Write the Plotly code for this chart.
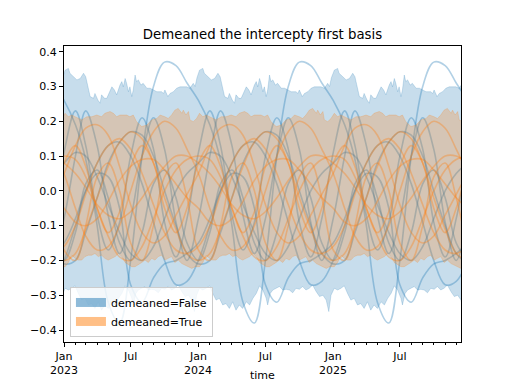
import pandas as pd
import plotly.graph_objects as go

# ---------------- text ----------------
title_text = "Demeaned the intercepty first basis"
x_label = "time"
legend_false = "demeaned=False"
legend_true = "demeaned=True"

x_range = ["2023-01-01", "2025-12-14"]
y_range = [-0.4345, 0.4164]
x_tick_dates = ["2023-01-01", "2023-07-01", "2024-01-01", "2024-07-01", "2025-01-01", "2025-07-01"]
x_tick_labels = ["Jan", "Jul", "Jan", "Jul", "Jan", "Jul"]
year_label_dates = ["2023-01-01", "2024-01-01", "2025-01-01"]
year_labels = ["2023", "2024", "2025"]
y_tick_values = [-0.4, -0.3, -0.2, -0.1, 0.0, 0.1, 0.2, 0.3, 0.4]

# ---------------- HDI bands (yearly seasonal profile: day-of-year -> value) ----------------
blue_upper_doy = [3, 12, 16, 26, 35, 44, 53, 59, 66, 71, 80, 84, 92, 98, 102, 110, 116, 125, 130, 137,
                  143, 152, 157, 161, 166, 170, 175, 179, 184, 188, 193, 197, 202, 209, 215, 225, 234, 243, 252, 265,
                  270, 274, 282, 288, 297, 306, 315, 333, 342, 351, 356, 361]
blue_upper_val = [0.347, 0.352, 0.338, 0.328, 0.319, 0.323, 0.338, 0.328, 0.299, 0.271, 0.266, 0.280, 0.261, 0.252, 0.276, 0.266, 0.266, 0.285, 0.299, 0.290,
                  0.276, 0.304, 0.314, 0.299, 0.323, 0.309, 0.285, 0.299, 0.271, 0.290, 0.333, 0.314, 0.319, 0.304, 0.309, 0.295, 0.295, 0.290, 0.285, 0.285,
                  0.280, 0.290, 0.271, 0.280, 0.285, 0.295, 0.299, 0.299, 0.295, 0.309, 0.300, 0.325]

blue_lower_doy = [3, 12, 21, 30, 39, 48, 57, 66, 75, 84, 93, 102, 111, 120, 130, 139, 148, 157, 166, 175,
                  184, 188, 195, 202, 211, 220, 229, 238, 247, 256, 265, 274, 283, 292, 301, 310, 320, 329, 338, 347,
                  354, 360]
blue_lower_val = [-0.280, -0.285, -0.280, -0.273, -0.295, -0.314, -0.309, -0.328, -0.324, -0.338, -0.319, -0.343, -0.328, -0.338, -0.319, -0.328, -0.309, -0.295, -0.273, -0.285,
                  -0.309, -0.328, -0.295, -0.285, -0.280, -0.275, -0.285, -0.283, -0.285, -0.293, -0.280, -0.283, -0.275, -0.285, -0.280, -0.271, -0.290, -0.304, -0.300, -0.314,
                  -0.347, -0.300]

orange_upper_doy = [3, 12, 21, 35, 48, 62, 75, 89, 102, 111, 125, 134, 143, 152, 161, 170, 179, 188, 197, 211,
                    225, 238, 252, 261, 274, 283, 292, 301, 310, 320, 324, 331, 338, 342, 351, 360]
orange_upper_val = [0.223, 0.213, 0.218, 0.210, 0.204, 0.213, 0.213, 0.218, 0.213, 0.223, 0.228, 0.223, 0.213, 0.218, 0.218, 0.218, 0.213, 0.218, 0.199, 0.185,
                    0.189, 0.204, 0.208, 0.218, 0.213, 0.208, 0.218, 0.232, 0.237, 0.223, 0.232, 0.218, 0.228, 0.204, 0.199, 0.208]

orange_lower_doy = [3, 12, 21, 30, 39, 48, 57, 66, 75, 84, 93, 102, 111, 120, 130, 139, 148, 157, 166, 175,
                    184, 193, 202, 211, 220, 229, 238, 247, 256, 265, 274, 283, 292, 301, 310, 320, 329, 338, 347, 356]
orange_lower_val = [-0.218, -0.206, -0.185, -0.194, -0.199, -0.199, -0.189, -0.185, -0.185, -0.180, -0.189, -0.185, -0.194, -0.199, -0.194, -0.189, -0.180, -0.189, -0.206, -0.213,
                    -0.218, -0.218, -0.213, -0.206, -0.199, -0.206, -0.194, -0.199, -0.189, -0.185, -0.199, -0.194, -0.189, -0.206, -0.199, -0.209, -0.213, -0.218, -0.223, -0.218]

# ---------------- sample curves (value on the 1st of Jan..Dec, repeating each year) ----------------
blue_1 = [0.26, 0.19, 0.09, -0.10, -0.32, -0.38, -0.20, 0.10, 0.30, 0.37, 0.36, 0.31]
blue_2 = [0.11, 0.23, 0.13, -0.07, -0.17, -0.09, 0.10, 0.21, 0.12, -0.09, -0.19, -0.08]
blue_3 = [-0.08, 0.10, 0.23, 0.13, -0.07, -0.18, -0.08, 0.10, 0.21, 0.12, -0.09, -0.20]
blue_4 = [-0.15, -0.08, 0.00, 0.05, 0.04, -0.05, -0.27, -0.32, -0.25, -0.21, -0.20, -0.18]
blue_5 = [-0.21, -0.20, -0.12, -0.02, 0.08, 0.14, 0.17, 0.16, 0.10, 0.00, -0.10, -0.18]
blue_6 = [0.08, 0.11, 0.10, 0.04, -0.04, -0.12, -0.18, -0.20, -0.16, -0.08, 0.00, 0.05]
blue_7 = [-0.20, -0.12, 0.02, 0.06, -0.02, -0.15, -0.20, -0.12, 0.02, 0.06, -0.02, -0.15]
blue_8 = [-0.20, -0.10, 0.00, 0.08, 0.13, 0.14, 0.10, 0.02, -0.09, -0.20, -0.27, -0.26]

orange_1 = [0.05, 0.13, 0.18, 0.19, 0.16, 0.07, -0.04, -0.12, -0.15, -0.13, -0.07, -0.01]
orange_2 = [0.05, -0.05, -0.13, -0.17, -0.16, -0.10, 0.00, 0.10, 0.17, 0.20, 0.18, 0.12]
orange_3 = [0.08, 0.13, 0.07, -0.05, -0.12, -0.06, 0.07, 0.13, 0.08, -0.05, -0.12, -0.05]
orange_4 = [0.10, 0.09, 0.04, -0.05, -0.13, -0.19, -0.20, -0.16, -0.08, 0.00, 0.06, 0.09]
orange_5 = [-0.16, -0.10, -0.01, 0.08, 0.13, 0.15, 0.12, 0.05, -0.04, -0.12, -0.17, -0.18]
orange_6 = [-0.05, -0.09, -0.10, -0.08, -0.03, 0.03, 0.07, 0.09, 0.09, 0.06, 0.02, -0.02]
orange_7 = [-0.17, -0.20, -0.10, 0.04, 0.08, 0.00, -0.15, -0.20, -0.10, 0.04, 0.08, -0.02]
orange_8 = [-0.20, -0.18, -0.11, -0.02, 0.07, 0.14, 0.17, 0.15, 0.08, -0.02, -0.11, -0.18]
orange_9 = [0.08, 0.05, 0.01, -0.04, -0.07, -0.08, -0.06, -0.02, 0.03, 0.07, 0.10, 0.10]

blue_samples = [blue_1, blue_2, blue_3, blue_4, blue_5, blue_6, blue_7, blue_8]
orange_samples = [orange_1, orange_2, orange_3, orange_4, orange_5, orange_6, orange_7, orange_8, orange_9]

BLUE = (31, 119, 180)
ORANGE = (255, 127, 14)
FONT = "DejaVu Sans"

# plot-area geometry in pixels (matches a 512x384 matplotlib figure)
PLOT_TOP, PLOT_BOTTOM = 46, 342
PLOT_H = PLOT_BOTTOM - PLOT_TOP


def rgba(c, a):
    return f"rgba({c[0]},{c[1]},{c[2]},{a})"


span_lo, span_hi = pd.Timestamp("2022-12-01"), pd.Timestamp("2026-01-31")


def band_series(doy, val):
    xs, ys = [], []
    for yr in range(2022, 2027):
        for d, v in zip(doy, val):
            t = pd.Timestamp(yr, 1, 1) + pd.Timedelta(days=d)
            if span_lo <= t <= span_hi:
                xs.append(t)
                ys.append(v)
    return xs, ys


month_x = list(pd.date_range("2022-12-01", "2026-01-01", freq="MS"))


def line_series(profile):
    return month_x, [profile[t.month - 1] for t in month_x]


fig = go.Figure()


def add_group(lower, upper, samples, color):
    lx, ly = band_series(*lower)
    ux, uy = band_series(*upper)
    fig.add_trace(go.Scatter(x=lx, y=ly, mode="lines", showlegend=False, hoverinfo="skip",
                             line=dict(color=rgba(color, 0.25), width=0.8)))
    fig.add_trace(go.Scatter(x=ux, y=uy, mode="lines", fill="tonexty", fillcolor=rgba(color, 0.25),
                             showlegend=False, hoverinfo="skip",
                             line=dict(color=rgba(color, 0.25), width=0.8)))
    for p in samples:
        mx, my = line_series(p)
        fig.add_trace(go.Scatter(x=mx, y=my, mode="lines", showlegend=False, hoverinfo="skip",
                                 line=dict(color=rgba(color, 0.35), width=1.6, shape="spline", smoothing=1.0)))


add_group((blue_lower_doy, blue_lower_val), (blue_upper_doy, blue_upper_val), blue_samples, BLUE)
add_group((orange_lower_doy, orange_lower_val), (orange_upper_doy, orange_upper_val), orange_samples, ORANGE)

for name, col in [(legend_false, BLUE), (legend_true, ORANGE)]:
    fig.add_trace(go.Scatter(x=[None], y=[None], mode="lines", name=name,
                             line=dict(color=rgba(col, 0.5), width=9)))

axis_common = dict(showgrid=False, zeroline=False, showline=True, mirror=True, linecolor="black",
                   linewidth=1, ticks="outside", ticklen=4, tickwidth=1, tickcolor="black", automargin=False,
                   tickfont=dict(family=FONT, size=11, color="black"))

annotations = [dict(text=x_label, xref="paper", yref="paper", x=0.5, y=(PLOT_BOTTOM - 384) / PLOT_H,
                    xanchor="center", yanchor="bottom", showarrow=False,
                    font=dict(family=FONT, size=11, color="black"))]
for d, lab in zip(year_label_dates, year_labels):
    annotations.append(dict(text=lab, xref="x", yref="paper", x=d, y=(PLOT_BOTTOM - 362) / PLOT_H,
                            xanchor="center", yanchor="top", showarrow=False,
                            font=dict(family=FONT, size=11, color="black")))

fig.update_layout(
    width=512, height=384,
    margin=dict(l=64, r=51, t=PLOT_TOP, b=384 - PLOT_BOTTOM, autoexpand=False),
    paper_bgcolor="white", plot_bgcolor="white",
    font=dict(family=FONT, size=11, color="black"),
    title=dict(text=title_text, x=0.5, xref="paper", xanchor="center",
               y=1 - 34.5 / 384, yref="container", yanchor="middle",
               font=dict(family=FONT, size=13.3, color="black")),
    xaxis=dict(type="date", range=x_range, tickmode="array", tickvals=x_tick_dates, ticktext=x_tick_labels,
               minor=dict(dtick="M1", tick0="2023-01-01", ticks="outside", ticklen=2, tickcolor="black", showgrid=False),
               **axis_common),
    yaxis=dict(range=y_range, tickmode="array", tickvals=y_tick_values, tickformat=".1f", **axis_common),
    legend=dict(x=0.015, y=0.017, xanchor="left", yanchor="bottom", bgcolor="rgba(255,255,255,0.8)",
                bordercolor="#cccccc", borderwidth=1, font=dict(family=FONT, size=11, color="black"),
                itemwidth=30, tracegroupgap=0, traceorder="normal"),
    showlegend=True,
    annotations=annotations,
)

fig.write_html("out.html", config={"displayModeBar": False, "staticPlot": True},
               post_script="document.body.style.margin='0px';")
